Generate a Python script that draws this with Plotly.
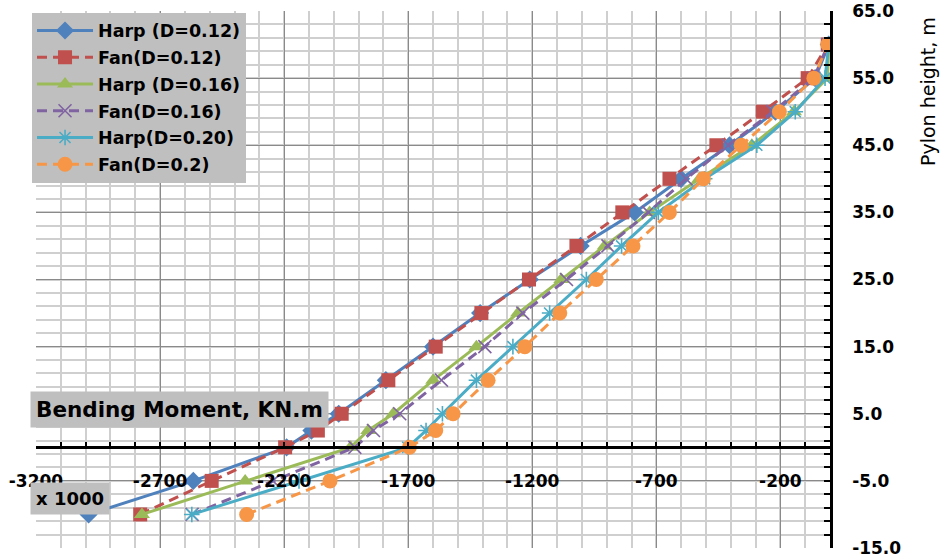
import plotly.graph_objects as go

# ---- data ----
heights = [-10, -5, 0, 2.5, 5, 10, 15, 20, 25, 30, 35, 40, 45, 50, 55, 60]

harp_012 = [-2988, -2566, -2190, -2090, -1980, -1790, -1600, -1410, -1210, -1005, -787, -600, -405, -220, -60, -5]
fan_012 = [-2780, -2492, -2196, -2064, -1968, -1780, -1589, -1405, -1213, -1022, -837, -647, -458, -271, -90, -9]
harp_016 = [-2773, -2357, -1932, -1861, -1760, -1599, -1425, -1257, -1083, -908, -727, -526, -315, -145, -10, -5]
fan_016 = [-2571, -2245, -1915, -1840, -1734, -1566, -1391, -1238, -1062, -895, -732, -580, -410, -230, -65, -8]
harp_020 = [-2572, -2140, -1702, -1628, -1562, -1425, -1278, -1130, -982, -840, -692, -505, -295, -140, -20, -5]
fan_020 = [-2351, -2015, -1695, -1589, -1519, -1378, -1230, -1089, -942, -794, -647, -510, -358, -204, -65, -9]

series_names = ["Harp (D=0.12)", "Fan(D=0.12)", "Harp (D=0.16)", "Fan(D=0.16)", "Harp(D=0.20)", "Fan(D=0.2)"]

x_tick_vals = [-3200, -2700, -2200, -1700, -1200, -700, -200]
x_tick_text = ["-3200", "-2700", "-2200", "-1700", "-1200", "-700", "-200"]
y_tick_vals = [-15, -5, 5, 15, 25, 35, 45, 55, 65]
y_tick_text = ["-15.0", "-5.0", "5.0", "15.0", "25.0", "35.0", "45.0", "55.0", "65.0"]

FONT = "DejaVu Sans"

styles = [
    dict(color="#4F81BD", dash="solid", symbol="diamond", size=14),
    dict(color="#C0504D", dash="10px,6px", symbol="square", size=14),
    dict(color="#9BBB59", dash="solid", symbol="triangle-up", size=14),
    dict(color="#8064A2", dash="10px,6px", symbol="x-thin-open", size=13),
    dict(color="#4BACC6", dash="solid", symbol="asterisk-open", size=13),
    dict(color="#F79646", dash="10px,6px", symbol="circle", size=15),
]

fig = go.Figure()
for i, (name, xs, st) in enumerate(zip(series_names,
                                       [harp_012, fan_012, harp_016, fan_016, harp_020, fan_020],
                                       styles)):
    open_sym = st["symbol"].endswith("open")
    fig.add_trace(go.Scatter(
        x=xs, y=heights, name=name, mode="lines+markers", legendgroup=f"g{i}",
        line=dict(color=st["color"], width=3, dash=st["dash"]),
        marker=dict(symbol=st["symbol"], size=st["size"], color=st["color"],
                    line=dict(color=st["color"], width=1.6 if open_sym else 0)),
    ))

fig.update_layout(
    width=944, height=560,
    margin=dict(l=36, r=114, t=11, b=12, autoexpand=False),
    paper_bgcolor="white", plot_bgcolor="white",
    font=dict(family=FONT, size=17, color="black"),
    legend=dict(
        x=-0.005, y=0.997, xanchor="left", yanchor="top",
        bgcolor="#bfbfbf", borderwidth=0,
        font=dict(family=FONT, size=17.5, color="black", weight="bold"),
        itemwidth=56, tracegroupgap=1,
    ),
    xaxis=dict(
        range=[-3200, 0], anchor="free", position=0.1875, automargin=False,
        tickmode="array", tickvals=x_tick_vals, ticktext=x_tick_text,
        tickfont=dict(family=FONT, size=17, color="black", weight="bold"),
        ticks="inside", ticklen=5, tickwidth=1.5, tickcolor="black",
        ticklabelstandoff=18, ticklabeloverflow="allow",
        showline=True, linecolor="black", linewidth=2.5,
        showgrid=True, gridcolor="#8a8a8a", gridwidth=1.3,
        zeroline=False,
        minor=dict(tickmode="linear", tick0=-3200, dtick=100, ticks="inside",
                   ticklen=5, tickwidth=1.5, tickcolor="black",
                   showgrid=True, gridcolor="#cfcfcf", gridwidth=1.6),
    ),
    yaxis=dict(
        range=[-15, 65], side="right", anchor="x", automargin=False,
        tickmode="array", tickvals=y_tick_vals, ticktext=y_tick_text,
        tickfont=dict(family=FONT, size=17, color="black", weight="bold"),
        ticks="inside", ticklen=6, tickwidth=1.5, tickcolor="black",
        ticklabelstandoff=16, ticklabeloverflow="allow",
        showline=True, linecolor="black", linewidth=2.5,
        showgrid=True, gridcolor="#8a8a8a", gridwidth=1.3,
        zeroline=False,
        minor=dict(tickmode="linear", tick0=-15, dtick=2, ticks="inside",
                   ticklen=6, tickwidth=1.5, tickcolor="black",
                   showgrid=True, gridcolor="#cfcfcf", gridwidth=1.6),
    ),
)

fig.add_annotation(
    text="Bending Moment, KN.m", xref="paper", yref="paper",
    x=-0.0076, y=0.257, xanchor="left", yanchor="middle", showarrow=False,
    bgcolor="#bfbfbf", borderpad=5,
    font=dict(family=FONT, size=21.5, color="black", weight="bold"),
)
fig.add_annotation(
    text="x 1000", xref="paper", yref="paper",
    x=-0.0076, y=0.093, xanchor="left", yanchor="middle", showarrow=False,
    bgcolor="#bfbfbf", borderpad=5,
    font=dict(family=FONT, size=18, color="black", weight="bold"),
)
fig.add_annotation(
    text="Pylon height, m", xref="paper", yref="paper",
    x=1.1234, y=0.851, xanchor="center", yanchor="middle", showarrow=False,
    textangle=-90,
    font=dict(family=FONT, size=19, color="black"),
)

# remove the default 8px page margin so the 944x560 figure fills the window
fig.write_html("out.html", config={"displayModeBar": False},
               post_script="document.body.style.margin='0';")
